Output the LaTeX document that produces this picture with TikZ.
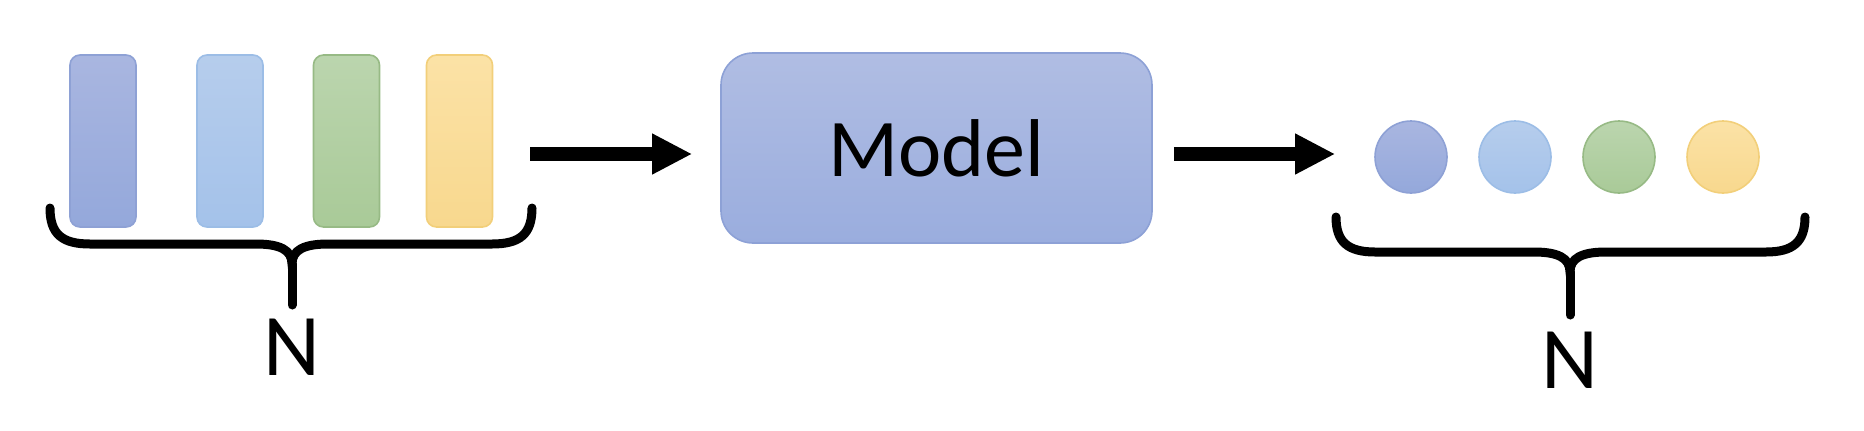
\documentclass[tikz,border=0pt]{standalone}
\usepackage{fontspec}
\setmainfont{Carlito}
\usetikzlibrary{arrows.meta,shapes}

\definecolor{bluA}{HTML}{A9B6E0}
\definecolor{bluB}{HTML}{94A8DB}
\definecolor{bluD}{HTML}{8EA1D5}
\definecolor{skyA}{HTML}{B6CDEC}
\definecolor{skyB}{HTML}{A4C2EA}
\definecolor{skyD}{HTML}{9CBDE6}
\definecolor{grnA}{HTML}{BBD5AE}
\definecolor{grnB}{HTML}{A9CA98}
\definecolor{grnD}{HTML}{97BA85}
\definecolor{ylwA}{HTML}{FBE2A6}
\definecolor{ylwB}{HTML}{F8D88E}
\definecolor{ylwD}{HTML}{F2CF7A}
\definecolor{mdlA}{HTML}{B0BDE3}
\definecolor{mdlB}{HTML}{9AADDE}
\definecolor{mdlD}{HTML}{8DA1D6}

\begin{document}
\begin{tikzpicture}[x=0.5pt, y=-0.5pt, line width=0.8pt]
\tikzstyle{bar}=[rectangle, rounded corners=5pt, minimum width=33pt, minimum height=86pt, inner sep=0pt]
\tikzstyle{dot}=[circle, minimum size=36pt, inner sep=0pt]
\tikzstyle{arr}=[-{Triangle[length=20pt,width=19pt]}, line width=7pt, black]
\tikzstyle{brc}=[line width=4.5pt, black, line cap=round]
\tikzstyle{lbl}=[font=\fontsize{44}{50}\selectfont, inner sep=0pt, anchor=north]
\useasboundingbox (0,0) rectangle (1864,430);

% inputs
\node[bar, draw=bluD, top color=bluA, bottom color=bluB] (b1) at (103,141) {};
\node[bar, draw=skyD, top color=skyA, bottom color=skyB, node distance=63.5pt] (b2) [right of=b1] {};
\node[bar, draw=grnD, top color=grnA, bottom color=grnB, node distance=58.25pt] (b3) [right of=b2] {};
\node[bar, draw=ylwD, top color=ylwA, bottom color=ylwB, node distance=56.5pt] (b4) [right of=b3] {};

% model
\node[rectangle, rounded corners=16pt, minimum width=215.5pt, minimum height=95pt,
      draw=mdlD, top color=mdlA, bottom color=mdlB, font=\fontsize{41}{48}\selectfont] (model) at (936.5,148) {Model};

% outputs
\node[dot, draw=bluD, top color=bluA, bottom color=bluB] (o1) at (1411,157) {};
\node[dot, draw=skyD, top color=skyA, bottom color=skyB, node distance=52pt] (o2) [right of=o1] {};
\node[dot, draw=grnD, top color=grnA, bottom color=grnB, node distance=52pt] (o3) [right of=o2] {};
\node[dot, draw=ylwD, top color=ylwA, bottom color=ylwB, node distance=52pt] (o4) [right of=o3] {};

\draw[arr, shorten <=18.5pt, shorten >=14pt] (b4.east |- 0,154) -- (model.west |- 0,154);
\draw[arr, shorten <=10.5pt, shorten >=19.5pt] (model.east |- 0,154) -- (o1.west |- 0,154);

% braces
\draw[brc] (50,208) .. controls (50,234) and (62,244) .. (90,244) -- (256,244)
  .. controls (280,244) and (292,250) .. (292,264)
  .. controls (292,250) and (304,244) .. (328,244) -- (492,244)
  .. controls (520,244) and (532,234) .. (532,208);
\draw[brc] (292,264) -- (292,305);
\node[lbl] (n1) at (292,318) {N};

\draw[brc] (1336,217) .. controls (1336,242) and (1348,252) .. (1375,252) -- (1534,252)
  .. controls (1558,252) and (1570,258) .. (1570,272)
  .. controls (1570,258) and (1582,252) .. (1606,252) -- (1766,252)
  .. controls (1793,252) and (1805,242) .. (1805,217);
\draw[brc] (1570,272) -- (1570,315);
\node[lbl] (n2) at (1570,331) {N};
\end{tikzpicture}
\end{document}
